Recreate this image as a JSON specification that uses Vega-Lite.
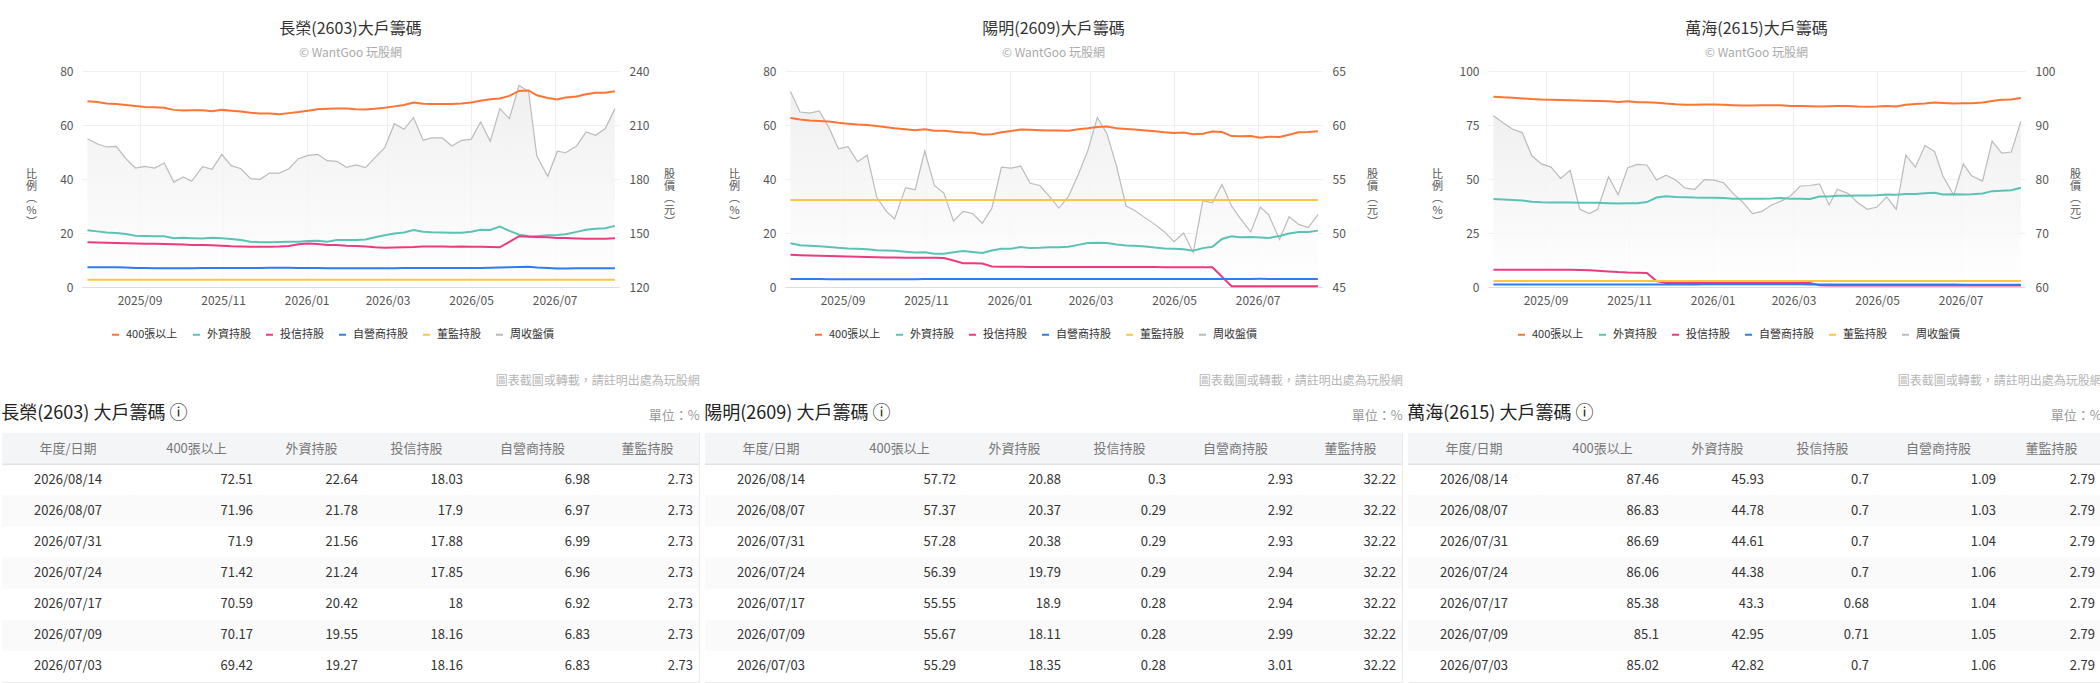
{
  "$schema": "https://vega.github.io/schema/vega-lite/v6.json",
  "background": "white",
  "padding": {"left": 0, "top": 21, "right": 0, "bottom": 0},
  "config": {
    "font": "Noto Sans CJK TC",
    "view": {"stroke": null},
    "title": {"fontSize": 16, "fontWeight": "normal", "color": "#333333", "subtitleFontSize": 12, "subtitleColor": "#aaaaaa", "offset": 6, "subtitlePadding": 11},
    "legend": {"orient": "none", "legendX": 28, "legendY": 258, "direction": "horizontal", "title": null, "symbolType": "stroke", "symbolStrokeWidth": 2, "symbolSize": 49, "labelFontSize": 11, "labelColor": "#333333", "columnPadding": 11, "labelOffset": 5, "padding": 0},
    "axisX": {"format": "%Y/%m", "tickCount": {"interval": "month", "step": 2}, "title": null, "ticks": false, "labelPadding": 8, "gridColor": "#eeeeee", "domainColor": "#dddddd", "labelColor": "#555555", "labelFontSize": 12},
    "axisY": {"domain": false, "ticks": true, "tickSize": 79, "tickOpacity": 0, "labelColor": "#555555", "labelFontSize": 12, "titleAngle": 0, "titleAlign": "center", "titleBaseline": "top", "titleY": 97, "titleFontSize": 11, "titleFontWeight": "normal", "titleColor": "#555555", "titleLineHeight": 12, "gridColor": "#f0f0f0"}
  },
  "datasets": {
    "cy": [
      {"d":"2025/07/25","400張以上":68.8,"外資持股":21.0,"投信持股":16.6,"自營商持股":7.3,"董監持股":2.73,"周收盤價":202.4},
      {"d":"2025/08/01","400張以上":68.5,"外資持股":20.6,"投信持股":16.5,"自營商持股":7.3,"董監持股":2.73,"周收盤價":199.6},
      {"d":"2025/08/08","400張以上":68.0,"外資持股":20.2,"投信持股":16.4,"自營商持股":7.3,"董監持股":2.73,"周收盤價":197.8},
      {"d":"2025/08/15","400張以上":67.8,"外資持股":20.0,"投信持股":16.3,"自營商持股":7.3,"董監持股":2.73,"周收盤價":198.1},
      {"d":"2025/08/22","400張以上":67.4,"外資持股":19.6,"投信持股":16.2,"自營商持股":7.2,"董監持股":2.73,"周收盤價":191.3},
      {"d":"2025/08/29","400張以上":67.0,"外資持股":19.0,"投信持股":16.1,"自營商持股":7.0,"董監持股":2.73,"周收盤價":186.1},
      {"d":"2025/09/05","400張以上":66.7,"外資持股":18.9,"投信持股":16.0,"自營商持股":7.0,"董監持股":2.73,"周收盤價":187.0},
      {"d":"2025/09/12","400張以上":66.6,"外資持股":18.8,"投信持股":16.0,"自營商持股":6.9,"董監持股":2.73,"周收盤價":186.1},
      {"d":"2025/09/19","400張以上":66.4,"外資持股":18.8,"投信持股":15.9,"自營商持股":6.9,"董監持股":2.73,"周收盤價":188.9},
      {"d":"2025/09/26","400張以上":65.6,"外資持股":18.1,"投信持股":15.8,"自營商持股":6.9,"董監持股":2.73,"周收盤價":178.3},
      {"d":"2025/10/03","400張以上":65.4,"外資持股":18.2,"投信持股":15.7,"自營商持股":6.9,"董監持股":2.73,"周收盤價":181.1},
      {"d":"2025/10/09","400張以上":65.5,"外資持股":18.1,"投信持股":15.6,"自營商持股":6.9,"董監持股":2.73,"周收盤價":178.7},
      {"d":"2025/10/17","400張以上":65.5,"外資持股":18.0,"投信持股":15.6,"自營商持股":7.0,"董監持股":2.73,"周收盤價":186.9},
      {"d":"2025/10/24","400張以上":65.1,"外資持股":18.2,"投信持股":15.5,"自營商持股":7.0,"董監持股":2.73,"周收盤價":185.4},
      {"d":"2025/10/31","400張以上":65.6,"外資持股":18.1,"投信持股":15.3,"自營商持股":7.0,"董監持股":2.73,"周收盤價":193.7},
      {"d":"2025/11/07","400張以上":65.3,"外資持股":17.8,"投信持股":15.1,"自營商持股":7.0,"董監持股":2.73,"周收盤價":187.4},
      {"d":"2025/11/14","400張以上":65.0,"外資持股":17.4,"投信持股":15.0,"自營商持股":7.0,"董監持股":2.73,"周收盤價":185.7},
      {"d":"2025/11/21","400張以上":64.5,"外資持股":16.8,"投信持股":14.9,"自營商持股":7.0,"董監持股":2.73,"周收盤價":180.2},
      {"d":"2025/11/28","400張以上":64.3,"外資持股":16.6,"投信持股":14.9,"自營商持股":7.0,"董監持股":2.73,"周收盤價":179.8},
      {"d":"2025/12/05","400張以上":64.3,"外資持股":16.6,"投信持股":14.9,"自營商持股":7.1,"董監持股":2.73,"周收盤價":183.3},
      {"d":"2025/12/12","400張以上":64.0,"外資持股":16.7,"投信持股":15.0,"自營商持股":7.1,"董監持股":2.73,"周收盤價":183.3},
      {"d":"2025/12/19","400張以上":64.4,"外資持股":16.8,"投信持股":15.2,"自營商持股":7.1,"董監持股":2.73,"周收盤價":185.7},
      {"d":"2025/12/26","400張以上":64.8,"外資持股":16.8,"投信持股":15.8,"自營商持股":7.0,"董監持股":2.73,"周收盤價":191.3},
      {"d":"2026/01/02","400張以上":65.3,"外資持股":17.0,"投信持股":16.1,"自營商持股":7.0,"董監持股":2.73,"周收盤價":193.1},
      {"d":"2026/01/09","400張以上":65.8,"外資持股":17.1,"投信持股":15.9,"自營商持股":7.0,"董監持股":2.73,"周收盤價":193.7},
      {"d":"2026/01/16","400張以上":66.0,"外資持股":16.8,"投信持股":15.6,"自營商持股":6.9,"董監持股":2.73,"周收盤價":190.2},
      {"d":"2026/01/23","400張以上":66.1,"外資持股":17.4,"投信持股":15.6,"自營商持股":6.9,"董監持股":2.73,"周收盤價":189.8},
      {"d":"2026/01/30","400張以上":66.1,"外資持股":17.4,"投信持股":15.3,"自營商持股":6.9,"董監持股":2.73,"周收盤價":186.5},
      {"d":"2026/02/06","400張以上":65.8,"外資持股":17.4,"投信持股":15.2,"自營商持股":6.9,"董監持股":2.73,"周收盤價":187.8},
      {"d":"2026/02/13","400張以上":65.7,"外資持股":17.6,"投信持股":15.0,"自營商持股":6.9,"董監持股":2.73,"周收盤價":186.3},
      {"d":"2026/02/20","400張以上":66.0,"外資持股":18.4,"投信持股":14.7,"自營商持股":6.9,"董監持股":2.73,"周收盤價":192.0},
      {"d":"2026/02/27","400張以上":66.4,"外資持股":19.2,"投信持股":14.5,"自營商持股":6.9,"董監持股":2.73,"周收盤價":197.4},
      {"d":"2026/03/06","400張以上":66.9,"外資持股":19.8,"投信持股":14.6,"自營商持股":6.9,"董監持股":2.73,"周收盤價":210.7},
      {"d":"2026/03/13","400張以上":67.4,"外資持股":20.2,"投信持股":14.7,"自營商持股":7.0,"董監持股":2.73,"周收盤價":207.6},
      {"d":"2026/03/20","400張以上":68.3,"外資持股":21.1,"投信持股":14.8,"自營商持股":7.0,"董監持股":2.73,"周收盤價":214.1},
      {"d":"2026/03/27","400張以上":67.9,"外資持股":20.5,"投信持股":15.0,"自營商持股":7.0,"董監持股":2.73,"周收盤價":201.5},
      {"d":"2026/04/02","400張以上":67.8,"外資持股":20.3,"投信持股":15.0,"自營商持股":7.0,"董監持股":2.73,"周收盤價":202.8},
      {"d":"2026/04/10","400張以上":67.8,"外資持股":20.2,"投信持股":15.0,"自營商持股":7.0,"董監持股":2.73,"周收盤價":202.8},
      {"d":"2026/04/17","400張以上":67.8,"外資持股":20.1,"投信持股":14.9,"自營商持股":7.0,"董監持股":2.73,"周收盤價":198.3},
      {"d":"2026/04/24","400張以上":68.0,"外資持股":20.1,"投信持股":15.0,"自營商持股":7.0,"董監持股":2.73,"周收盤價":201.5},
      {"d":"2026/05/01","400張以上":68.3,"外資持股":20.5,"投信持股":14.9,"自營商持股":7.0,"董監持股":2.73,"周收盤價":202.0},
      {"d":"2026/05/08","400張以上":69.0,"外資持股":21.2,"投信持股":14.9,"自營商持股":7.0,"董監持股":2.73,"周收盤價":211.7},
      {"d":"2026/05/15","400張以上":69.5,"外資持股":21.1,"投信持股":14.8,"自營商持股":7.1,"董監持股":2.73,"周收盤價":200.9},
      {"d":"2026/05/22","400張以上":69.8,"外資持股":22.4,"投信持股":14.7,"自營商持股":7.2,"董監持股":2.73,"周收盤價":219.1},
      {"d":"2026/05/29","400張以上":70.8,"外資持股":20.8,"投信持股":16.7,"自營商持股":7.3,"董監持股":2.73,"周收盤價":213.5},
      {"d":"2026/06/05","400張以上":72.6,"外資持股":19.4,"投信持股":18.8,"自營商持股":7.4,"董監持股":2.73,"周收盤價":232.0},
      {"d":"2026/06/12","400張以上":72.8,"外資持股":18.9,"投信持股":18.6,"自營商持股":7.5,"董監持股":2.73,"周收盤價":228.7},
      {"d":"2026/06/18","400張以上":71.0,"外資持股":18.8,"投信持股":18.5,"自營商持股":7.2,"董監持股":2.73,"周收盤價":192.8},
      {"d":"2026/06/26","400張以上":70.0,"外資持股":19.2,"投信持股":18.4,"自營商持股":7.0,"董監持股":2.73,"周收盤價":181.5},
      {"d":"2026/07/03","400張以上":69.42,"外資持股":19.27,"投信持股":18.16,"自營商持股":6.83,"董監持股":2.73,"周收盤價":195.4},
      {"d":"2026/07/09","400張以上":70.17,"外資持股":19.55,"投信持股":18.16,"自營商持股":6.83,"董監持股":2.73,"周收盤價":194.6},
      {"d":"2026/07/17","400張以上":70.59,"外資持股":20.42,"投信持股":18.0,"自營商持股":6.92,"董監持股":2.73,"周收盤價":198.3},
      {"d":"2026/07/24","400張以上":71.42,"外資持股":21.24,"投信持股":17.85,"自營商持股":6.96,"董監持股":2.73,"周收盤價":206.1},
      {"d":"2026/07/31","400張以上":71.9,"外資持股":21.56,"投信持股":17.88,"自營商持股":6.99,"董監持股":2.73,"周收盤價":204.3},
      {"d":"2026/08/07","400張以上":71.96,"外資持股":21.78,"投信持股":17.9,"自營商持股":6.97,"董監持股":2.73,"周收盤價":208.0},
      {"d":"2026/08/14","400張以上":72.51,"外資持股":22.64,"投信持股":18.03,"自營商持股":6.98,"董監持股":2.73,"周收盤價":219.1}
    ],
    "ym": [
      {"d":"2025/07/25","400張以上":62.6,"外資持股":16.2,"投信持股":11.9,"自營商持股":3.0,"董監持股":32.22,"周收盤價":63.1},
      {"d":"2025/08/01","400張以上":62.0,"外資持股":15.5,"投信持股":11.8,"自營商持股":3.0,"董監持股":32.22,"周收盤價":61.2},
      {"d":"2025/08/08","400張以上":61.7,"外資持股":15.3,"投信持股":11.7,"自營商持股":3.0,"董監持股":32.22,"周收盤價":61.1},
      {"d":"2025/08/15","400張以上":61.5,"外資持股":15.1,"投信持股":11.6,"自營商持股":3.0,"董監持股":32.22,"周收盤價":61.3},
      {"d":"2025/08/22","400張以上":61.3,"外資持股":14.8,"投信持股":11.5,"自營商持股":2.9,"董監持股":32.22,"周收盤價":59.8},
      {"d":"2025/08/29","400張以上":60.8,"外資持股":14.5,"投信持股":11.4,"自營商持股":2.9,"董監持股":32.22,"周收盤價":57.8},
      {"d":"2025/09/05","400張以上":60.5,"外資持股":14.3,"投信持股":11.3,"自營商持股":2.9,"董監持股":32.22,"周收盤價":58.0},
      {"d":"2025/09/12","400張以上":60.2,"外資持股":14.2,"投信持股":11.2,"自營商持股":2.9,"董監持股":32.22,"周收盤價":56.6},
      {"d":"2025/09/19","400張以上":60.0,"外資持股":14.0,"投信持股":11.1,"自營商持股":2.9,"董監持股":32.22,"周收盤價":57.2},
      {"d":"2025/09/26","400張以上":59.6,"外資持股":13.6,"投信持股":11.0,"自營商持股":2.9,"董監持股":32.22,"周收盤價":53.3},
      {"d":"2025/10/03","400張以上":59.2,"外資持股":13.5,"投信持股":10.9,"自營商持股":2.9,"董監持股":32.22,"周收盤價":52.0},
      {"d":"2025/10/09","400張以上":58.8,"外資持股":13.4,"投信持股":10.9,"自營商持股":2.9,"董監持股":32.22,"周收盤價":51.3},
      {"d":"2025/10/17","400張以上":58.4,"外資持股":13.1,"投信持股":10.8,"自營商持股":2.9,"董監持股":32.22,"周收盤價":54.2},
      {"d":"2025/10/24","400張以上":58.1,"外資持股":12.8,"投信持股":10.8,"自營商持股":2.9,"董監持股":32.22,"周收盤價":54.0},
      {"d":"2025/10/31","400張以上":58.4,"外資持股":12.9,"投信持股":10.8,"自營商持股":3.0,"董監持股":32.22,"周收盤價":57.6},
      {"d":"2025/11/07","400張以上":57.9,"外資持股":12.3,"投信持股":10.8,"自營商持股":3.0,"董監持股":32.22,"周收盤價":54.4},
      {"d":"2025/11/14","400張以上":57.9,"外資持股":12.3,"投信持股":10.7,"自營商持股":3.0,"董監持股":32.22,"周收盤價":53.7},
      {"d":"2025/11/21","400張以上":57.5,"外資持股":12.9,"投信持股":9.8,"自營商持股":3.0,"董監持股":32.22,"周收盤價":51.1},
      {"d":"2025/11/28","400張以上":57.2,"外資持股":13.3,"投信持股":8.8,"自營商持股":3.0,"董監持股":32.22,"周收盤價":52.0},
      {"d":"2025/12/05","400張以上":57.1,"外資持股":13.0,"投信持股":8.8,"自營商持股":3.0,"董監持股":32.22,"周收盤價":51.8},
      {"d":"2025/12/12","400張以上":56.5,"外資持股":12.6,"投信持股":8.7,"自營商持股":3.0,"董監持股":32.22,"周收盤價":50.9},
      {"d":"2025/12/19","400張以上":56.6,"外資持股":13.5,"投信持股":7.6,"自營商持股":3.0,"董監持股":32.22,"周收盤價":52.3},
      {"d":"2025/12/26","400張以上":57.3,"外資持股":14.2,"投信持股":7.5,"自營商持股":3.0,"董監持股":32.22,"周收盤價":56.1},
      {"d":"2026/01/02","400張以上":57.8,"外資持股":14.2,"投信持股":7.5,"自營商持股":3.0,"董監持股":32.22,"周收盤價":56.0},
      {"d":"2026/01/09","400張以上":58.3,"外資持股":14.8,"投信持股":7.5,"自營商持股":3.0,"董監持股":32.22,"周收盤價":56.2},
      {"d":"2026/01/16","400張以上":58.2,"外資持股":14.4,"投信持股":7.4,"自營商持股":3.0,"董監持股":32.22,"周收盤價":54.6},
      {"d":"2026/01/23","400張以上":58.1,"外資持股":14.5,"投信持股":7.4,"自營商持股":3.0,"董監持股":32.22,"周收盤價":54.4},
      {"d":"2026/01/30","400張以上":58.0,"外資持股":14.7,"投信持股":7.4,"自營商持股":3.0,"董監持股":32.22,"周收盤價":53.4},
      {"d":"2026/02/06","400張以上":58.0,"外資持股":14.7,"投信持股":7.4,"自營商持股":3.0,"董監持股":32.22,"周收盤價":52.3},
      {"d":"2026/02/13","400張以上":57.9,"外資持股":14.9,"投信持股":7.4,"自營商持股":3.0,"董監持股":32.22,"周收盤價":53.4},
      {"d":"2026/02/20","400張以上":58.4,"外資持股":15.6,"投信持股":7.4,"自營商持股":3.0,"董監持股":32.22,"周收盤價":55.4},
      {"d":"2026/02/27","400張以上":58.8,"外資持股":16.3,"投信持股":7.4,"自營商持股":3.0,"董監持股":32.22,"周收盤價":57.6},
      {"d":"2026/03/06","400張以上":59.3,"外資持股":16.4,"投信持股":7.4,"自營商持股":3.0,"董監持股":32.22,"周收盤價":60.7},
      {"d":"2026/03/13","400張以上":59.4,"外資持股":16.3,"投信持股":7.4,"自營商持股":3.0,"董監持股":32.22,"周收盤價":59.2},
      {"d":"2026/03/20","400張以上":58.8,"外資持股":15.7,"投信持股":7.4,"自營商持股":3.0,"董監持股":32.22,"周收盤價":56.2},
      {"d":"2026/03/27","400張以上":58.5,"外資持股":15.4,"投信持股":7.4,"自營商持股":3.0,"董監持股":32.22,"周收盤價":52.5},
      {"d":"2026/04/02","400張以上":58.3,"外資持股":15.3,"投信持股":7.4,"自營商持股":3.0,"董監持股":32.22,"周收盤價":52.1},
      {"d":"2026/04/10","400張以上":58.0,"外資持股":15.0,"投信持股":7.4,"自營商持股":3.0,"董監持股":32.22,"周收盤價":51.4},
      {"d":"2026/04/17","400張以上":57.7,"外資持股":14.6,"投信持股":7.4,"自營商持股":3.0,"董監持股":32.22,"周收盤價":50.8},
      {"d":"2026/04/24","400張以上":57.3,"外資持股":14.3,"投信持股":7.3,"自營商持股":3.0,"董監持股":32.22,"周收盤價":50.1},
      {"d":"2026/05/01","400張以上":57.0,"外資持股":14.2,"投信持股":7.3,"自營商持股":3.0,"董監持股":32.22,"周收盤價":49.2},
      {"d":"2026/05/08","400張以上":57.2,"外資持股":14.0,"投信持股":7.3,"自營商持股":3.0,"董監持股":32.22,"周收盤價":50.0},
      {"d":"2026/05/15","400張以上":56.6,"外資持股":13.4,"投信持股":7.3,"自營商持股":3.0,"董監持股":32.22,"周收盤價":48.2},
      {"d":"2026/05/22","400張以上":56.8,"外資持股":14.4,"投信持股":7.3,"自營商持股":3.0,"董監持股":32.22,"周收盤價":53.0},
      {"d":"2026/05/29","400張以上":57.6,"外資持股":14.9,"投信持股":7.3,"自營商持股":3.0,"董監持股":32.22,"周收盤價":52.8},
      {"d":"2026/06/05","400張以上":57.4,"外資持股":17.8,"投信持股":3.8,"自營商持股":3.0,"董監持股":32.22,"周收盤價":54.5},
      {"d":"2026/06/12","400張以上":55.9,"外資持股":18.8,"投信持股":0.3,"自營商持股":3.0,"董監持股":32.22,"周收盤價":52.5},
      {"d":"2026/06/18","400張以上":55.8,"外資持股":18.4,"投信持股":0.3,"自營商持股":3.0,"董監持股":32.22,"周收盤價":51.4},
      {"d":"2026/06/26","400張以上":55.9,"外資持股":18.5,"投信持股":0.28,"自營商持股":3.0,"董監持股":32.22,"周收盤價":50.1},
      {"d":"2026/07/03","400張以上":55.29,"外資持股":18.35,"投信持股":0.28,"自營商持股":3.01,"董監持股":32.22,"周收盤價":52.4},
      {"d":"2026/07/09","400張以上":55.67,"外資持股":18.11,"投信持股":0.28,"自營商持股":2.99,"董監持股":32.22,"周收盤價":51.7},
      {"d":"2026/07/17","400張以上":55.55,"外資持股":18.9,"投信持股":0.28,"自營商持股":2.94,"董監持股":32.22,"周收盤價":49.4},
      {"d":"2026/07/24","400張以上":56.39,"外資持股":19.79,"投信持股":0.29,"自營商持股":2.94,"董監持股":32.22,"周收盤價":51.5},
      {"d":"2026/07/31","400張以上":57.28,"外資持股":20.38,"投信持股":0.29,"自營商持股":2.93,"董監持股":32.22,"周收盤價":50.8},
      {"d":"2026/08/07","400張以上":57.37,"外資持股":20.37,"投信持股":0.29,"自營商持股":2.92,"董監持股":32.22,"周收盤價":50.5},
      {"d":"2026/08/14","400張以上":57.72,"外資持股":20.88,"投信持股":0.3,"自營商持股":2.93,"董監持股":32.22,"周收盤價":51.7}
    ],
    "wh": [
      {"d":"2025/07/25","400張以上":88.1,"外資持股":40.7,"投信持股":8.0,"自營商持股":1.2,"董監持股":2.79,"周收盤價":91.7},
      {"d":"2025/08/01","400張以上":87.8,"外資持股":40.5,"投信持股":8.0,"自營商持股":1.2,"董監持股":2.79,"周收盤價":90.4},
      {"d":"2025/08/08","400張以上":87.6,"外資持股":40.3,"投信持股":8.0,"自營商持股":1.2,"董監持股":2.79,"周收盤價":89.2},
      {"d":"2025/08/15","400張以上":87.3,"外資持股":40.0,"投信持股":8.0,"自營商持股":1.2,"董監持股":2.79,"周收盤價":88.6},
      {"d":"2025/08/22","400張以上":87.0,"外資持股":39.5,"投信持股":8.0,"自營商持股":1.1,"董監持股":2.79,"周收盤價":84.3},
      {"d":"2025/08/29","400張以上":86.8,"外資持股":39.2,"投信持股":8.0,"自營商持股":1.1,"董監持股":2.79,"周收盤價":82.8},
      {"d":"2025/09/05","400張以上":86.7,"外資持股":39.1,"投信持股":8.0,"自營商持股":1.1,"董監持股":2.79,"周收盤價":82.2},
      {"d":"2025/09/12","400張以上":86.6,"外資持股":39.1,"投信持股":8.0,"自營商持股":1.1,"董監持股":2.79,"周收盤價":80.1},
      {"d":"2025/09/19","400張以上":86.5,"外資持股":39.1,"投信持股":8.0,"自營商持股":1.1,"董監持股":2.79,"周收盤價":81.6},
      {"d":"2025/09/26","400張以上":86.3,"外資持股":39.0,"投信持股":7.9,"自營商持股":1.1,"董監持股":2.79,"周收盤價":74.4},
      {"d":"2025/10/03","400張以上":86.2,"外資持股":39.0,"投信持股":7.8,"自營商持股":1.1,"董監持股":2.79,"周收盤價":73.6},
      {"d":"2025/10/09","400張以上":86.1,"外資持股":39.0,"投信持股":7.5,"自營商持股":1.1,"董監持股":2.79,"周收盤價":74.4},
      {"d":"2025/10/17","400張以上":86.0,"外資持股":38.8,"投信持股":7.2,"自營商持股":1.2,"董監持股":2.79,"周收盤價":80.4},
      {"d":"2025/10/24","400張以上":85.6,"外資持股":38.7,"投信持股":6.9,"自營商持股":1.2,"董監持股":2.79,"周收盤價":77.1},
      {"d":"2025/10/31","400張以上":86.0,"外資持股":38.8,"投信持股":6.7,"自營商持股":1.2,"董監持股":2.79,"周收盤價":82.1},
      {"d":"2025/11/07","400張以上":85.5,"外資持股":38.8,"投信持股":6.6,"自營商持股":1.2,"董監持股":2.79,"周收盤價":82.7},
      {"d":"2025/11/14","400張以上":85.5,"外資持股":39.3,"投信持股":6.5,"自營商持股":1.2,"董監持股":2.79,"周收盤價":82.6},
      {"d":"2025/11/21","400張以上":85.3,"外資持股":41.4,"投信持股":2.8,"自營商持股":1.2,"董監持股":2.79,"周收盤價":79.8},
      {"d":"2025/11/28","400張以上":84.9,"外資持股":42.0,"投信持股":1.9,"自營商持股":1.2,"董監持股":2.79,"周收盤價":80.7},
      {"d":"2025/12/05","400張以上":84.6,"外資持股":41.7,"投信持股":1.9,"自營商持股":1.2,"董監持股":2.79,"周收盤價":79.8},
      {"d":"2025/12/12","400張以上":84.4,"外資持股":41.6,"投信持股":1.9,"自營商持股":1.2,"董監持股":2.79,"周收盤價":78.3},
      {"d":"2025/12/19","400張以上":84.4,"外資持股":41.4,"投信持股":1.9,"自營商持股":1.2,"董監持股":2.79,"周收盤價":78.1},
      {"d":"2025/12/26","400張以上":84.5,"外資持股":41.3,"投信持股":1.9,"自營商持股":1.3,"董監持股":2.79,"周收盤價":79.9},
      {"d":"2026/01/02","400張以上":84.5,"外資持股":41.3,"投信持股":1.9,"自營商持股":1.3,"董監持股":2.79,"周收盤價":79.8},
      {"d":"2026/01/09","400張以上":84.4,"外資持股":41.2,"投信持股":1.9,"自營商持股":1.3,"董監持股":2.79,"周收盤價":79.3},
      {"d":"2026/01/16","400張以上":84.2,"外資持股":40.9,"投信持股":1.9,"自營商持股":1.3,"董監持股":2.79,"周收盤價":77.3},
      {"d":"2026/01/23","400張以上":84.0,"外資持股":40.8,"投信持股":1.8,"自營商持股":1.3,"董監持股":2.79,"周收盤價":75.7},
      {"d":"2026/01/30","400張以上":84.0,"外資持股":40.8,"投信持股":1.8,"自營商持股":1.3,"董監持股":2.79,"周收盤價":73.6},
      {"d":"2026/02/06","400張以上":84.1,"外資持股":40.9,"投信持股":1.8,"自營商持股":1.3,"董監持股":2.79,"周收盤價":74.0},
      {"d":"2026/02/13","400張以上":84.2,"外資持股":41.0,"投信持股":1.8,"自營商持股":1.3,"董監持股":2.79,"周收盤價":75.2},
      {"d":"2026/02/20","400張以上":84.1,"外資持股":41.2,"投信持股":1.8,"自營商持股":1.3,"董監持股":2.79,"周收盤價":75.9},
      {"d":"2026/02/27","400張以上":83.8,"外資持股":40.8,"投信持股":1.8,"自營商持股":1.3,"董監持股":2.79,"周收盤價":76.9},
      {"d":"2026/03/06","400張以上":83.8,"外資持股":40.8,"投信持股":1.8,"自營商持股":1.3,"董監持股":2.79,"周收盤價":78.7},
      {"d":"2026/03/13","400張以上":83.7,"外資持股":40.7,"投信持股":1.8,"自營商持股":1.2,"董監持股":2.79,"周收盤價":78.8},
      {"d":"2026/03/20","400張以上":83.6,"外資持股":41.9,"投信持股":0.8,"自營商持股":1.1,"董監持股":2.79,"周收盤價":79.1},
      {"d":"2026/03/27","400張以上":83.7,"外資持股":41.9,"投信持股":0.7,"自營商持股":1.1,"董監持股":2.79,"周收盤價":75.2},
      {"d":"2026/04/02","400張以上":83.8,"外資持股":42.2,"投信持股":0.7,"自營商持股":1.1,"董監持股":2.79,"周收盤價":78.1},
      {"d":"2026/04/10","400張以上":83.8,"外資持股":42.3,"投信持股":0.7,"自營商持股":1.1,"董監持股":2.79,"周收盤價":77.3},
      {"d":"2026/04/17","400張以上":83.6,"外資持股":42.4,"投信持股":0.7,"自營商持股":1.1,"董監持股":2.79,"周收盤價":75.6},
      {"d":"2026/04/24","400張以上":83.5,"外資持股":42.4,"投信持股":0.7,"自營商持股":1.1,"董監持股":2.79,"周收盤價":74.4},
      {"d":"2026/05/01","400張以上":83.6,"外資持股":42.5,"投信持股":0.7,"自營商持股":1.1,"董監持股":2.79,"周收盤價":74.8},
      {"d":"2026/05/08","400張以上":83.8,"外資持股":42.8,"投信持股":0.7,"自營商持股":1.1,"董監持股":2.79,"周收盤價":76.7},
      {"d":"2026/05/15","400張以上":83.6,"外資持股":42.7,"投信持股":0.7,"自營商持股":1.1,"董監持股":2.79,"周收盤價":74.4},
      {"d":"2026/05/22","400張以上":84.4,"外資持股":43.0,"投信持股":0.7,"自營商持股":1.1,"董監持股":2.79,"周收盤價":84.4},
      {"d":"2026/05/29","400張以上":84.7,"外資持股":43.0,"投信持股":0.7,"自營商持股":1.1,"董監持股":2.79,"周收盤價":82.2},
      {"d":"2026/06/05","400張以上":85.0,"外資持股":43.4,"投信持股":0.7,"自營商持股":1.1,"董監持股":2.79,"周收盤價":86.2},
      {"d":"2026/06/12","400張以上":85.4,"外資持股":43.6,"投信持股":0.7,"自營商持股":1.1,"董監持股":2.79,"周收盤價":85.1},
      {"d":"2026/06/18","400張以上":85.2,"外資持股":42.8,"投信持股":0.7,"自營商持股":1.1,"董監持股":2.79,"周收盤價":80.6},
      {"d":"2026/06/26","400張以上":85.0,"外資持股":42.9,"投信持股":0.7,"自營商持股":1.1,"董監持股":2.79,"周收盤價":77.0},
      {"d":"2026/07/03","400張以上":85.02,"外資持股":42.82,"投信持股":0.7,"自營商持股":1.06,"董監持股":2.79,"周收盤價":82.8},
      {"d":"2026/07/09","400張以上":85.1,"外資持股":42.95,"投信持股":0.71,"自營商持股":1.05,"董監持股":2.79,"周收盤價":80.6},
      {"d":"2026/07/17","400張以上":85.38,"外資持股":43.3,"投信持股":0.68,"自營商持股":1.04,"董監持股":2.79,"周收盤價":79.6},
      {"d":"2026/07/24","400張以上":86.06,"外資持股":44.38,"投信持股":0.7,"自營商持股":1.06,"董監持股":2.79,"周收盤價":87.0},
      {"d":"2026/07/31","400張以上":86.69,"外資持股":44.61,"投信持股":0.7,"自營商持股":1.04,"董監持股":2.79,"周收盤價":84.8},
      {"d":"2026/08/07","400張以上":86.83,"外資持股":44.78,"投信持股":0.7,"自營商持股":1.03,"董監持股":2.79,"周收盤價":85.0},
      {"d":"2026/08/14","400張以上":87.46,"外資持股":45.93,"投信持股":0.7,"自營商持股":1.09,"董監持股":2.79,"周收盤價":90.7}
    ],
    "t_cy": [
      {"date":"2026/08/14","400張以上":72.51,"外資持股":22.64,"投信持股":18.03,"自營商持股":6.98,"董監持股":2.73},
      {"date":"2026/08/07","400張以上":71.96,"外資持股":21.78,"投信持股":17.9,"自營商持股":6.97,"董監持股":2.73},
      {"date":"2026/07/31","400張以上":71.9,"外資持股":21.56,"投信持股":17.88,"自營商持股":6.99,"董監持股":2.73},
      {"date":"2026/07/24","400張以上":71.42,"外資持股":21.24,"投信持股":17.85,"自營商持股":6.96,"董監持股":2.73},
      {"date":"2026/07/17","400張以上":70.59,"外資持股":20.42,"投信持股":18,"自營商持股":6.92,"董監持股":2.73},
      {"date":"2026/07/09","400張以上":70.17,"外資持股":19.55,"投信持股":18.16,"自營商持股":6.83,"董監持股":2.73},
      {"date":"2026/07/03","400張以上":69.42,"外資持股":19.27,"投信持股":18.16,"自營商持股":6.83,"董監持股":2.73}
    ],
    "t_ym": [
      {"date":"2026/08/14","400張以上":57.72,"外資持股":20.88,"投信持股":0.3,"自營商持股":2.93,"董監持股":32.22},
      {"date":"2026/08/07","400張以上":57.37,"外資持股":20.37,"投信持股":0.29,"自營商持股":2.92,"董監持股":32.22},
      {"date":"2026/07/31","400張以上":57.28,"外資持股":20.38,"投信持股":0.29,"自營商持股":2.93,"董監持股":32.22},
      {"date":"2026/07/24","400張以上":56.39,"外資持股":19.79,"投信持股":0.29,"自營商持股":2.94,"董監持股":32.22},
      {"date":"2026/07/17","400張以上":55.55,"外資持股":18.9,"投信持股":0.28,"自營商持股":2.94,"董監持股":32.22},
      {"date":"2026/07/09","400張以上":55.67,"外資持股":18.11,"投信持股":0.28,"自營商持股":2.99,"董監持股":32.22},
      {"date":"2026/07/03","400張以上":55.29,"外資持股":18.35,"投信持股":0.28,"自營商持股":3.01,"董監持股":32.22}
    ],
    "t_wh": [
      {"date":"2026/08/14","400張以上":87.46,"外資持股":45.93,"投信持股":0.7,"自營商持股":1.09,"董監持股":2.79},
      {"date":"2026/08/07","400張以上":86.83,"外資持股":44.78,"投信持股":0.7,"自營商持股":1.03,"董監持股":2.79},
      {"date":"2026/07/31","400張以上":86.69,"外資持股":44.61,"投信持股":0.7,"自營商持股":1.04,"董監持股":2.79},
      {"date":"2026/07/24","400張以上":86.06,"外資持股":44.38,"投信持股":0.7,"自營商持股":1.06,"董監持股":2.79},
      {"date":"2026/07/17","400張以上":85.38,"外資持股":43.3,"投信持股":0.68,"自營商持股":1.04,"董監持股":2.79},
      {"date":"2026/07/09","400張以上":85.1,"外資持股":42.95,"投信持股":0.71,"自營商持股":1.05,"董監持股":2.79},
      {"date":"2026/07/03","400張以上":85.02,"外資持股":42.82,"投信持股":0.7,"自營商持股":1.06,"董監持股":2.79}
    ]
  },
  "hconcat": [
    {
      "vconcat": [
        {
          "hconcat": [
            {"width": 1, "height": 216, "data": {"values": []}, "mark": "point"},
            {
              "width": 537, "height": 216,
              "data": {"name": "cy"},
              "title": {"text": "長榮(2603)大戶籌碼", "subtitle": "© WantGoo 玩股網"},
              "encoding": {"x": {"field": "d", "type": "temporal", "scale": {"domain": [{"year": 2025, "month": 7, "date": 21}, {"year": 2026, "month": 8, "date": 17}]}}},
              "layer": [
                {
                  "encoding": {"y": {"field": "周收盤價", "type": "quantitative", "scale": {"domain": [120, 240], "nice": false, "zero": false}, "axis": {"orient": "right", "values": [120, 150, 180, 210, 240], "grid": false, "labelPadding": -69, "title": ["股", "價", "︵", "元", "︶"], "titleX": 50}}},
                  "layer": [
                    {"mark": {"type": "area", "color": {"gradient": "linear", "x1": 0, "y1": 1, "x2": 0, "y2": 0, "stops": [{"offset": 0, "color": "#ffffff"}, {"offset": 1, "color": "#ededed"}]}, "opacity": 0.85}, "encoding": {"y2": {"datum": 120}}},
                    {"mark": {"type": "line", "strokeWidth": 1.2}, "encoding": {"color": {"datum": "周收盤價", "type": "nominal", "scale": {"domain": ["400張以上", "外資持股", "投信持股", "自營商持股", "董監持股", "周收盤價"], "range": ["#ff7433", "#5bc2b6", "#eb3b80", "#2d7cf2", "#ffc542", "#bbbbbb"]}}}}
                  ]
                },
                {
                  "transform": [{"fold": ["400張以上", "外資持股", "投信持股", "自營商持股", "董監持股"], "as": ["series", "value"]}],
                  "mark": {"type": "line", "strokeWidth": 2},
                  "encoding": {
                    "y": {"field": "value", "type": "quantitative", "scale": {"domain": [0, 80], "nice": false}, "axis": {"orient": "left", "values": [0, 20, 40, 60, 80], "grid": true, "labelPadding": -70, "title": ["比", "例", "︵", "%", "︶"], "titleX": -51}},
                    "color": {"field": "series", "type": "nominal", "scale": {"domain": ["400張以上", "外資持股", "投信持股", "自營商持股", "董監持股", "周收盤價"], "range": ["#ff7433", "#5bc2b6", "#eb3b80", "#2d7cf2", "#ffc542", "#bbbbbb"]}}
                  }
                }
              ],
              "resolve": {"scale": {"y": "independent"}}
            }
          ],
          "spacing": 0,
          "resolve": {"scale": {"color": "independent"}, "legend": {"color": "independent"}}
        },
        {
          "hconcat": [
            {
              "width": 132, "height": 249, "view": {"stroke": "#ebebeb"}, "data": {"name": "t_cy"},
              "title": {"text": "長榮(2603) 大戶籌碼 ⓘ", "anchor": "start", "fontSize": 18, "color": "#222222", "offset": 10},
              "encoding": {"y": {"field": "date", "type": "nominal", "scale": {"domain": ["hdr", "2026/08/14", "2026/08/07", "2026/07/31", "2026/07/24", "2026/07/17", "2026/07/09", "2026/07/03"], "paddingInner": 0, "paddingOuter": 0}, "axis": null}},
              "layer": [
                {"mark": "rect", "encoding": {"fill": {"field": "date", "type": "nominal", "scale": {"domain": ["2026/08/14", "2026/08/07", "2026/07/31", "2026/07/24", "2026/07/17", "2026/07/09", "2026/07/03"], "range": ["#ffffff", "#fafafa", "#ffffff", "#fafafa", "#ffffff", "#fafafa", "#ffffff"]}, "legend": null}}},
                {"data": {"values": [{}]}, "mark": {"type": "rect", "fill": "#f4f5f7"}, "encoding": {"y": {"datum": "hdr", "type": "nominal"}}},
                {"data": {"values": [{}]}, "mark": {"type": "rule", "color": "#e2e2e2", "strokeWidth": 1.5}, "encoding": {"y": {"datum": "2026/08/14", "type": "nominal", "bandPosition": 0}}},
                {"data": {"values": [{}]}, "mark": {"type": "text", "color": "#777777", "fontSize": 13}, "encoding": {"y": {"datum": "hdr", "type": "nominal"}, "text": {"value": "年度/日期"}}},
                {"mark": {"type": "text", "color": "#333333", "fontSize": 13}, "encoding": {"text": {"field": "date", "type": "nominal"}}}
              ]
            },
            {
              "width": 125, "height": 249, "view": {"stroke": "#ebebeb"}, "data": {"name": "t_cy"},
              "encoding": {"y": {"field": "date", "type": "nominal", "scale": {"domain": ["hdr", "2026/08/14", "2026/08/07", "2026/07/31", "2026/07/24", "2026/07/17", "2026/07/09", "2026/07/03"], "paddingInner": 0, "paddingOuter": 0}, "axis": null}},
              "layer": [
                {"mark": "rect", "encoding": {"fill": {"field": "date", "type": "nominal", "legend": null}}},
                {"data": {"values": [{}]}, "mark": {"type": "rect", "fill": "#f4f5f7"}, "encoding": {"y": {"datum": "hdr", "type": "nominal"}}},
                {"data": {"values": [{}]}, "mark": {"type": "rule", "color": "#e2e2e2", "strokeWidth": 1.5}, "encoding": {"y": {"datum": "2026/08/14", "type": "nominal", "bandPosition": 0}}},
                {"data": {"values": [{}]}, "mark": {"type": "text", "color": "#777777", "fontSize": 13}, "encoding": {"y": {"datum": "hdr", "type": "nominal"}, "text": {"value": "400張以上"}}},
                {"mark": {"type": "text", "color": "#333333", "fontSize": 13, "align": "right", "dx": -6}, "encoding": {"x": {"value": "width"}, "text": {"field": "400張以上", "type": "nominal"}}}
              ]
            },
            {
              "width": 105, "height": 249, "view": {"stroke": "#ebebeb"}, "data": {"name": "t_cy"},
              "encoding": {"y": {"field": "date", "type": "nominal", "scale": {"domain": ["hdr", "2026/08/14", "2026/08/07", "2026/07/31", "2026/07/24", "2026/07/17", "2026/07/09", "2026/07/03"], "paddingInner": 0, "paddingOuter": 0}, "axis": null}},
              "layer": [
                {"mark": "rect", "encoding": {"fill": {"field": "date", "type": "nominal", "legend": null}}},
                {"data": {"values": [{}]}, "mark": {"type": "rect", "fill": "#f4f5f7"}, "encoding": {"y": {"datum": "hdr", "type": "nominal"}}},
                {"data": {"values": [{}]}, "mark": {"type": "rule", "color": "#e2e2e2", "strokeWidth": 1.5}, "encoding": {"y": {"datum": "2026/08/14", "type": "nominal", "bandPosition": 0}}},
                {"data": {"values": [{}]}, "mark": {"type": "text", "color": "#777777", "fontSize": 13}, "encoding": {"y": {"datum": "hdr", "type": "nominal"}, "text": {"value": "外資持股"}}},
                {"mark": {"type": "text", "color": "#333333", "fontSize": 13, "align": "right", "dx": -6}, "encoding": {"x": {"value": "width"}, "text": {"field": "外資持股", "type": "nominal"}}}
              ]
            },
            {
              "width": 105, "height": 249, "view": {"stroke": "#ebebeb"}, "data": {"name": "t_cy"},
              "encoding": {"y": {"field": "date", "type": "nominal", "scale": {"domain": ["hdr", "2026/08/14", "2026/08/07", "2026/07/31", "2026/07/24", "2026/07/17", "2026/07/09", "2026/07/03"], "paddingInner": 0, "paddingOuter": 0}, "axis": null}},
              "layer": [
                {"mark": "rect", "encoding": {"fill": {"field": "date", "type": "nominal", "legend": null}}},
                {"data": {"values": [{}]}, "mark": {"type": "rect", "fill": "#f4f5f7"}, "encoding": {"y": {"datum": "hdr", "type": "nominal"}}},
                {"data": {"values": [{}]}, "mark": {"type": "rule", "color": "#e2e2e2", "strokeWidth": 1.5}, "encoding": {"y": {"datum": "2026/08/14", "type": "nominal", "bandPosition": 0}}},
                {"data": {"values": [{}]}, "mark": {"type": "text", "color": "#777777", "fontSize": 13}, "encoding": {"y": {"datum": "hdr", "type": "nominal"}, "text": {"value": "投信持股"}}},
                {"mark": {"type": "text", "color": "#333333", "fontSize": 13, "align": "right", "dx": -6}, "encoding": {"x": {"value": "width"}, "text": {"field": "投信持股", "type": "nominal"}}}
              ]
            },
            {
              "width": 127, "height": 249, "view": {"stroke": "#ebebeb"}, "data": {"name": "t_cy"},
              "encoding": {"y": {"field": "date", "type": "nominal", "scale": {"domain": ["hdr", "2026/08/14", "2026/08/07", "2026/07/31", "2026/07/24", "2026/07/17", "2026/07/09", "2026/07/03"], "paddingInner": 0, "paddingOuter": 0}, "axis": null}},
              "layer": [
                {"mark": "rect", "encoding": {"fill": {"field": "date", "type": "nominal", "legend": null}}},
                {"data": {"values": [{}]}, "mark": {"type": "rect", "fill": "#f4f5f7"}, "encoding": {"y": {"datum": "hdr", "type": "nominal"}}},
                {"data": {"values": [{}]}, "mark": {"type": "rule", "color": "#e2e2e2", "strokeWidth": 1.5}, "encoding": {"y": {"datum": "2026/08/14", "type": "nominal", "bandPosition": 0}}},
                {"data": {"values": [{}]}, "mark": {"type": "text", "color": "#777777", "fontSize": 13}, "encoding": {"y": {"datum": "hdr", "type": "nominal"}, "text": {"value": "自營商持股"}}},
                {"mark": {"type": "text", "color": "#333333", "fontSize": 13, "align": "right", "dx": -6}, "encoding": {"x": {"value": "width"}, "text": {"field": "自營商持股", "type": "nominal"}}}
              ]
            },
            {
              "width": 103, "height": 249, "view": {"stroke": "#ebebeb"}, "data": {"name": "t_cy"},
              "title": {"text": "圖表截圖或轉載，請註明出處為玩股網", "subtitle": "單位：%", "anchor": "end", "fontSize": 12, "color": "#b5b5b5", "subtitleFontSize": 13, "subtitleColor": "#999999", "subtitlePadding": 22, "offset": 9},
              "encoding": {"y": {"field": "date", "type": "nominal", "scale": {"domain": ["hdr", "2026/08/14", "2026/08/07", "2026/07/31", "2026/07/24", "2026/07/17", "2026/07/09", "2026/07/03"], "paddingInner": 0, "paddingOuter": 0}, "axis": null}},
              "layer": [
                {"mark": "rect", "encoding": {"fill": {"field": "date", "type": "nominal", "legend": null}}},
                {"data": {"values": [{}]}, "mark": {"type": "rect", "fill": "#f4f5f7"}, "encoding": {"y": {"datum": "hdr", "type": "nominal"}}},
                {"data": {"values": [{}]}, "mark": {"type": "rule", "color": "#e2e2e2", "strokeWidth": 1.5}, "encoding": {"y": {"datum": "2026/08/14", "type": "nominal", "bandPosition": 0}}},
                {"data": {"values": [{}]}, "mark": {"type": "text", "color": "#777777", "fontSize": 13}, "encoding": {"y": {"datum": "hdr", "type": "nominal"}, "text": {"value": "董監持股"}}},
                {"mark": {"type": "text", "color": "#333333", "fontSize": 13, "align": "right", "dx": -6}, "encoding": {"x": {"value": "width"}, "text": {"field": "董監持股", "type": "nominal"}}}
              ]
            }
          ],
          "spacing": 0,
          "bounds": "flush"
        }
      ],
      "spacing": 34,
      "resolve": {"scale": {"color": "independent"}, "legend": {"color": "independent"}}
    },
    {
      "vconcat": [
        {
          "hconcat": [
            {"width": 1, "height": 216, "data": {"values": []}, "mark": "point"},
            {
              "width": 537, "height": 216,
              "data": {"name": "ym"},
              "title": {"text": "陽明(2609)大戶籌碼", "subtitle": "© WantGoo 玩股網"},
              "encoding": {"x": {"field": "d", "type": "temporal", "scale": {"domain": [{"year": 2025, "month": 7, "date": 21}, {"year": 2026, "month": 8, "date": 17}]}}},
              "layer": [
                {
                  "encoding": {"y": {"field": "周收盤價", "type": "quantitative", "scale": {"domain": [45, 65], "nice": false, "zero": false}, "axis": {"orient": "right", "values": [45, 50, 55, 60, 65], "grid": false, "labelPadding": -69, "title": ["股", "價", "︵", "元", "︶"], "titleX": 50}}},
                  "layer": [
                    {"mark": {"type": "area", "color": {"gradient": "linear", "x1": 0, "y1": 1, "x2": 0, "y2": 0, "stops": [{"offset": 0, "color": "#ffffff"}, {"offset": 1, "color": "#ededed"}]}, "opacity": 0.85}, "encoding": {"y2": {"datum": 45}}},
                    {"mark": {"type": "line", "strokeWidth": 1.2}, "encoding": {"color": {"datum": "周收盤價", "type": "nominal", "scale": {"domain": ["400張以上", "外資持股", "投信持股", "自營商持股", "董監持股", "周收盤價"], "range": ["#ff7433", "#5bc2b6", "#eb3b80", "#2d7cf2", "#ffc542", "#bbbbbb"]}}}}
                  ]
                },
                {
                  "transform": [{"fold": ["400張以上", "外資持股", "投信持股", "自營商持股", "董監持股"], "as": ["series", "value"]}],
                  "mark": {"type": "line", "strokeWidth": 2},
                  "encoding": {
                    "y": {"field": "value", "type": "quantitative", "scale": {"domain": [0, 80], "nice": false}, "axis": {"orient": "left", "values": [0, 20, 40, 60, 80], "grid": true, "labelPadding": -70, "title": ["比", "例", "︵", "%", "︶"], "titleX": -51}},
                    "color": {"field": "series", "type": "nominal", "scale": {"domain": ["400張以上", "外資持股", "投信持股", "自營商持股", "董監持股", "周收盤價"], "range": ["#ff7433", "#5bc2b6", "#eb3b80", "#2d7cf2", "#ffc542", "#bbbbbb"]}}
                  }
                }
              ],
              "resolve": {"scale": {"y": "independent"}}
            }
          ],
          "spacing": 0,
          "resolve": {"scale": {"color": "independent"}, "legend": {"color": "independent"}}
        },
        {
          "hconcat": [
            {
              "width": 132, "height": 249, "view": {"stroke": "#ebebeb"}, "data": {"name": "t_ym"},
              "title": {"text": "陽明(2609) 大戶籌碼 ⓘ", "anchor": "start", "fontSize": 18, "color": "#222222", "offset": 10},
              "encoding": {"y": {"field": "date", "type": "nominal", "scale": {"domain": ["hdr", "2026/08/14", "2026/08/07", "2026/07/31", "2026/07/24", "2026/07/17", "2026/07/09", "2026/07/03"], "paddingInner": 0, "paddingOuter": 0}, "axis": null}},
              "layer": [
                {"mark": "rect", "encoding": {"fill": {"field": "date", "type": "nominal", "legend": null}}},
                {"data": {"values": [{}]}, "mark": {"type": "rect", "fill": "#f4f5f7"}, "encoding": {"y": {"datum": "hdr", "type": "nominal"}}},
                {"data": {"values": [{}]}, "mark": {"type": "rule", "color": "#e2e2e2", "strokeWidth": 1.5}, "encoding": {"y": {"datum": "2026/08/14", "type": "nominal", "bandPosition": 0}}},
                {"data": {"values": [{}]}, "mark": {"type": "text", "color": "#777777", "fontSize": 13}, "encoding": {"y": {"datum": "hdr", "type": "nominal"}, "text": {"value": "年度/日期"}}},
                {"mark": {"type": "text", "color": "#333333", "fontSize": 13}, "encoding": {"text": {"field": "date", "type": "nominal"}}}
              ]
            },
            {
              "width": 125, "height": 249, "view": {"stroke": "#ebebeb"}, "data": {"name": "t_ym"},
              "encoding": {"y": {"field": "date", "type": "nominal", "scale": {"domain": ["hdr", "2026/08/14", "2026/08/07", "2026/07/31", "2026/07/24", "2026/07/17", "2026/07/09", "2026/07/03"], "paddingInner": 0, "paddingOuter": 0}, "axis": null}},
              "layer": [
                {"mark": "rect", "encoding": {"fill": {"field": "date", "type": "nominal", "legend": null}}},
                {"data": {"values": [{}]}, "mark": {"type": "rect", "fill": "#f4f5f7"}, "encoding": {"y": {"datum": "hdr", "type": "nominal"}}},
                {"data": {"values": [{}]}, "mark": {"type": "rule", "color": "#e2e2e2", "strokeWidth": 1.5}, "encoding": {"y": {"datum": "2026/08/14", "type": "nominal", "bandPosition": 0}}},
                {"data": {"values": [{}]}, "mark": {"type": "text", "color": "#777777", "fontSize": 13}, "encoding": {"y": {"datum": "hdr", "type": "nominal"}, "text": {"value": "400張以上"}}},
                {"mark": {"type": "text", "color": "#333333", "fontSize": 13, "align": "right", "dx": -6}, "encoding": {"x": {"value": "width"}, "text": {"field": "400張以上", "type": "nominal"}}}
              ]
            },
            {
              "width": 105, "height": 249, "view": {"stroke": "#ebebeb"}, "data": {"name": "t_ym"},
              "encoding": {"y": {"field": "date", "type": "nominal", "scale": {"domain": ["hdr", "2026/08/14", "2026/08/07", "2026/07/31", "2026/07/24", "2026/07/17", "2026/07/09", "2026/07/03"], "paddingInner": 0, "paddingOuter": 0}, "axis": null}},
              "layer": [
                {"mark": "rect", "encoding": {"fill": {"field": "date", "type": "nominal", "legend": null}}},
                {"data": {"values": [{}]}, "mark": {"type": "rect", "fill": "#f4f5f7"}, "encoding": {"y": {"datum": "hdr", "type": "nominal"}}},
                {"data": {"values": [{}]}, "mark": {"type": "rule", "color": "#e2e2e2", "strokeWidth": 1.5}, "encoding": {"y": {"datum": "2026/08/14", "type": "nominal", "bandPosition": 0}}},
                {"data": {"values": [{}]}, "mark": {"type": "text", "color": "#777777", "fontSize": 13}, "encoding": {"y": {"datum": "hdr", "type": "nominal"}, "text": {"value": "外資持股"}}},
                {"mark": {"type": "text", "color": "#333333", "fontSize": 13, "align": "right", "dx": -6}, "encoding": {"x": {"value": "width"}, "text": {"field": "外資持股", "type": "nominal"}}}
              ]
            },
            {
              "width": 105, "height": 249, "view": {"stroke": "#ebebeb"}, "data": {"name": "t_ym"},
              "encoding": {"y": {"field": "date", "type": "nominal", "scale": {"domain": ["hdr", "2026/08/14", "2026/08/07", "2026/07/31", "2026/07/24", "2026/07/17", "2026/07/09", "2026/07/03"], "paddingInner": 0, "paddingOuter": 0}, "axis": null}},
              "layer": [
                {"mark": "rect", "encoding": {"fill": {"field": "date", "type": "nominal", "legend": null}}},
                {"data": {"values": [{}]}, "mark": {"type": "rect", "fill": "#f4f5f7"}, "encoding": {"y": {"datum": "hdr", "type": "nominal"}}},
                {"data": {"values": [{}]}, "mark": {"type": "rule", "color": "#e2e2e2", "strokeWidth": 1.5}, "encoding": {"y": {"datum": "2026/08/14", "type": "nominal", "bandPosition": 0}}},
                {"data": {"values": [{}]}, "mark": {"type": "text", "color": "#777777", "fontSize": 13}, "encoding": {"y": {"datum": "hdr", "type": "nominal"}, "text": {"value": "投信持股"}}},
                {"mark": {"type": "text", "color": "#333333", "fontSize": 13, "align": "right", "dx": -6}, "encoding": {"x": {"value": "width"}, "text": {"field": "投信持股", "type": "nominal"}}}
              ]
            },
            {
              "width": 127, "height": 249, "view": {"stroke": "#ebebeb"}, "data": {"name": "t_ym"},
              "encoding": {"y": {"field": "date", "type": "nominal", "scale": {"domain": ["hdr", "2026/08/14", "2026/08/07", "2026/07/31", "2026/07/24", "2026/07/17", "2026/07/09", "2026/07/03"], "paddingInner": 0, "paddingOuter": 0}, "axis": null}},
              "layer": [
                {"mark": "rect", "encoding": {"fill": {"field": "date", "type": "nominal", "legend": null}}},
                {"data": {"values": [{}]}, "mark": {"type": "rect", "fill": "#f4f5f7"}, "encoding": {"y": {"datum": "hdr", "type": "nominal"}}},
                {"data": {"values": [{}]}, "mark": {"type": "rule", "color": "#e2e2e2", "strokeWidth": 1.5}, "encoding": {"y": {"datum": "2026/08/14", "type": "nominal", "bandPosition": 0}}},
                {"data": {"values": [{}]}, "mark": {"type": "text", "color": "#777777", "fontSize": 13}, "encoding": {"y": {"datum": "hdr", "type": "nominal"}, "text": {"value": "自營商持股"}}},
                {"mark": {"type": "text", "color": "#333333", "fontSize": 13, "align": "right", "dx": -6}, "encoding": {"x": {"value": "width"}, "text": {"field": "自營商持股", "type": "nominal"}}}
              ]
            },
            {
              "width": 103, "height": 249, "view": {"stroke": "#ebebeb"}, "data": {"name": "t_ym"},
              "title": {"text": "圖表截圖或轉載，請註明出處為玩股網", "subtitle": "單位：%", "anchor": "end", "fontSize": 12, "color": "#b5b5b5", "subtitleFontSize": 13, "subtitleColor": "#999999", "subtitlePadding": 22, "offset": 9},
              "encoding": {"y": {"field": "date", "type": "nominal", "scale": {"domain": ["hdr", "2026/08/14", "2026/08/07", "2026/07/31", "2026/07/24", "2026/07/17", "2026/07/09", "2026/07/03"], "paddingInner": 0, "paddingOuter": 0}, "axis": null}},
              "layer": [
                {"mark": "rect", "encoding": {"fill": {"field": "date", "type": "nominal", "legend": null}}},
                {"data": {"values": [{}]}, "mark": {"type": "rect", "fill": "#f4f5f7"}, "encoding": {"y": {"datum": "hdr", "type": "nominal"}}},
                {"data": {"values": [{}]}, "mark": {"type": "rule", "color": "#e2e2e2", "strokeWidth": 1.5}, "encoding": {"y": {"datum": "2026/08/14", "type": "nominal", "bandPosition": 0}}},
                {"data": {"values": [{}]}, "mark": {"type": "text", "color": "#777777", "fontSize": 13}, "encoding": {"y": {"datum": "hdr", "type": "nominal"}, "text": {"value": "董監持股"}}},
                {"mark": {"type": "text", "color": "#333333", "fontSize": 13, "align": "right", "dx": -6}, "encoding": {"x": {"value": "width"}, "text": {"field": "董監持股", "type": "nominal"}}}
              ]
            }
          ],
          "spacing": 0,
          "bounds": "flush"
        }
      ],
      "spacing": 34,
      "resolve": {"scale": {"color": "independent"}, "legend": {"color": "independent"}}
    },
    {
      "vconcat": [
        {
          "hconcat": [
            {"width": 1, "height": 216, "data": {"values": []}, "mark": "point"},
            {
              "width": 537, "height": 216,
              "data": {"name": "wh"},
              "title": {"text": "萬海(2615)大戶籌碼", "subtitle": "© WantGoo 玩股網"},
              "encoding": {"x": {"field": "d", "type": "temporal", "scale": {"domain": [{"year": 2025, "month": 7, "date": 21}, {"year": 2026, "month": 8, "date": 17}]}}},
              "layer": [
                {
                  "encoding": {"y": {"field": "周收盤價", "type": "quantitative", "scale": {"domain": [60, 100], "nice": false, "zero": false}, "axis": {"orient": "right", "values": [60, 70, 80, 90, 100], "grid": false, "labelPadding": -69, "title": ["股", "價", "︵", "元", "︶"], "titleX": 50}}},
                  "layer": [
                    {"mark": {"type": "area", "color": {"gradient": "linear", "x1": 0, "y1": 1, "x2": 0, "y2": 0, "stops": [{"offset": 0, "color": "#ffffff"}, {"offset": 1, "color": "#ededed"}]}, "opacity": 0.85}, "encoding": {"y2": {"datum": 60}}},
                    {"mark": {"type": "line", "strokeWidth": 1.2}, "encoding": {"color": {"datum": "周收盤價", "type": "nominal", "scale": {"domain": ["400張以上", "外資持股", "投信持股", "自營商持股", "董監持股", "周收盤價"], "range": ["#ff7433", "#5bc2b6", "#eb3b80", "#2d7cf2", "#ffc542", "#bbbbbb"]}}}}
                  ]
                },
                {
                  "transform": [{"fold": ["400張以上", "外資持股", "投信持股", "自營商持股", "董監持股"], "as": ["series", "value"]}],
                  "mark": {"type": "line", "strokeWidth": 2},
                  "encoding": {
                    "y": {"field": "value", "type": "quantitative", "scale": {"domain": [0, 100], "nice": false}, "axis": {"orient": "left", "values": [0, 25, 50, 75, 100], "grid": true, "labelPadding": -70, "title": ["比", "例", "︵", "%", "︶"], "titleX": -51}},
                    "color": {"field": "series", "type": "nominal", "scale": {"domain": ["400張以上", "外資持股", "投信持股", "自營商持股", "董監持股", "周收盤價"], "range": ["#ff7433", "#5bc2b6", "#eb3b80", "#2d7cf2", "#ffc542", "#bbbbbb"]}}
                  }
                }
              ],
              "resolve": {"scale": {"y": "independent"}}
            }
          ],
          "spacing": 0,
          "resolve": {"scale": {"color": "independent"}, "legend": {"color": "independent"}}
        },
        {
          "hconcat": [
            {
              "width": 132, "height": 249, "view": {"stroke": "#ebebeb"}, "data": {"name": "t_wh"},
              "title": {"text": "萬海(2615) 大戶籌碼 ⓘ", "anchor": "start", "fontSize": 18, "color": "#222222", "offset": 10},
              "encoding": {"y": {"field": "date", "type": "nominal", "scale": {"domain": ["hdr", "2026/08/14", "2026/08/07", "2026/07/31", "2026/07/24", "2026/07/17", "2026/07/09", "2026/07/03"], "paddingInner": 0, "paddingOuter": 0}, "axis": null}},
              "layer": [
                {"mark": "rect", "encoding": {"fill": {"field": "date", "type": "nominal", "legend": null}}},
                {"data": {"values": [{}]}, "mark": {"type": "rect", "fill": "#f4f5f7"}, "encoding": {"y": {"datum": "hdr", "type": "nominal"}}},
                {"data": {"values": [{}]}, "mark": {"type": "rule", "color": "#e2e2e2", "strokeWidth": 1.5}, "encoding": {"y": {"datum": "2026/08/14", "type": "nominal", "bandPosition": 0}}},
                {"data": {"values": [{}]}, "mark": {"type": "text", "color": "#777777", "fontSize": 13}, "encoding": {"y": {"datum": "hdr", "type": "nominal"}, "text": {"value": "年度/日期"}}},
                {"mark": {"type": "text", "color": "#333333", "fontSize": 13}, "encoding": {"text": {"field": "date", "type": "nominal"}}}
              ]
            },
            {
              "width": 125, "height": 249, "view": {"stroke": "#ebebeb"}, "data": {"name": "t_wh"},
              "encoding": {"y": {"field": "date", "type": "nominal", "scale": {"domain": ["hdr", "2026/08/14", "2026/08/07", "2026/07/31", "2026/07/24", "2026/07/17", "2026/07/09", "2026/07/03"], "paddingInner": 0, "paddingOuter": 0}, "axis": null}},
              "layer": [
                {"mark": "rect", "encoding": {"fill": {"field": "date", "type": "nominal", "legend": null}}},
                {"data": {"values": [{}]}, "mark": {"type": "rect", "fill": "#f4f5f7"}, "encoding": {"y": {"datum": "hdr", "type": "nominal"}}},
                {"data": {"values": [{}]}, "mark": {"type": "rule", "color": "#e2e2e2", "strokeWidth": 1.5}, "encoding": {"y": {"datum": "2026/08/14", "type": "nominal", "bandPosition": 0}}},
                {"data": {"values": [{}]}, "mark": {"type": "text", "color": "#777777", "fontSize": 13}, "encoding": {"y": {"datum": "hdr", "type": "nominal"}, "text": {"value": "400張以上"}}},
                {"mark": {"type": "text", "color": "#333333", "fontSize": 13, "align": "right", "dx": -6}, "encoding": {"x": {"value": "width"}, "text": {"field": "400張以上", "type": "nominal"}}}
              ]
            },
            {
              "width": 105, "height": 249, "view": {"stroke": "#ebebeb"}, "data": {"name": "t_wh"},
              "encoding": {"y": {"field": "date", "type": "nominal", "scale": {"domain": ["hdr", "2026/08/14", "2026/08/07", "2026/07/31", "2026/07/24", "2026/07/17", "2026/07/09", "2026/07/03"], "paddingInner": 0, "paddingOuter": 0}, "axis": null}},
              "layer": [
                {"mark": "rect", "encoding": {"fill": {"field": "date", "type": "nominal", "legend": null}}},
                {"data": {"values": [{}]}, "mark": {"type": "rect", "fill": "#f4f5f7"}, "encoding": {"y": {"datum": "hdr", "type": "nominal"}}},
                {"data": {"values": [{}]}, "mark": {"type": "rule", "color": "#e2e2e2", "strokeWidth": 1.5}, "encoding": {"y": {"datum": "2026/08/14", "type": "nominal", "bandPosition": 0}}},
                {"data": {"values": [{}]}, "mark": {"type": "text", "color": "#777777", "fontSize": 13}, "encoding": {"y": {"datum": "hdr", "type": "nominal"}, "text": {"value": "外資持股"}}},
                {"mark": {"type": "text", "color": "#333333", "fontSize": 13, "align": "right", "dx": -6}, "encoding": {"x": {"value": "width"}, "text": {"field": "外資持股", "type": "nominal"}}}
              ]
            },
            {
              "width": 105, "height": 249, "view": {"stroke": "#ebebeb"}, "data": {"name": "t_wh"},
              "encoding": {"y": {"field": "date", "type": "nominal", "scale": {"domain": ["hdr", "2026/08/14", "2026/08/07", "2026/07/31", "2026/07/24", "2026/07/17", "2026/07/09", "2026/07/03"], "paddingInner": 0, "paddingOuter": 0}, "axis": null}},
              "layer": [
                {"mark": "rect", "encoding": {"fill": {"field": "date", "type": "nominal", "legend": null}}},
                {"data": {"values": [{}]}, "mark": {"type": "rect", "fill": "#f4f5f7"}, "encoding": {"y": {"datum": "hdr", "type": "nominal"}}},
                {"data": {"values": [{}]}, "mark": {"type": "rule", "color": "#e2e2e2", "strokeWidth": 1.5}, "encoding": {"y": {"datum": "2026/08/14", "type": "nominal", "bandPosition": 0}}},
                {"data": {"values": [{}]}, "mark": {"type": "text", "color": "#777777", "fontSize": 13}, "encoding": {"y": {"datum": "hdr", "type": "nominal"}, "text": {"value": "投信持股"}}},
                {"mark": {"type": "text", "color": "#333333", "fontSize": 13, "align": "right", "dx": -6}, "encoding": {"x": {"value": "width"}, "text": {"field": "投信持股", "type": "nominal"}}}
              ]
            },
            {
              "width": 127, "height": 249, "view": {"stroke": "#ebebeb"}, "data": {"name": "t_wh"},
              "encoding": {"y": {"field": "date", "type": "nominal", "scale": {"domain": ["hdr", "2026/08/14", "2026/08/07", "2026/07/31", "2026/07/24", "2026/07/17", "2026/07/09", "2026/07/03"], "paddingInner": 0, "paddingOuter": 0}, "axis": null}},
              "layer": [
                {"mark": "rect", "encoding": {"fill": {"field": "date", "type": "nominal", "legend": null}}},
                {"data": {"values": [{}]}, "mark": {"type": "rect", "fill": "#f4f5f7"}, "encoding": {"y": {"datum": "hdr", "type": "nominal"}}},
                {"data": {"values": [{}]}, "mark": {"type": "rule", "color": "#e2e2e2", "strokeWidth": 1.5}, "encoding": {"y": {"datum": "2026/08/14", "type": "nominal", "bandPosition": 0}}},
                {"data": {"values": [{}]}, "mark": {"type": "text", "color": "#777777", "fontSize": 13}, "encoding": {"y": {"datum": "hdr", "type": "nominal"}, "text": {"value": "自營商持股"}}},
                {"mark": {"type": "text", "color": "#333333", "fontSize": 13, "align": "right", "dx": -6}, "encoding": {"x": {"value": "width"}, "text": {"field": "自營商持股", "type": "nominal"}}}
              ]
            },
            {
              "width": 99, "height": 249, "view": {"stroke": "#ebebeb"}, "data": {"name": "t_wh"},
              "title": {"text": "圖表截圖或轉載，請註明出處為玩股網", "subtitle": "單位：%", "anchor": "end", "fontSize": 12, "color": "#b5b5b5", "subtitleFontSize": 13, "subtitleColor": "#999999", "subtitlePadding": 22, "offset": 9},
              "encoding": {"y": {"field": "date", "type": "nominal", "scale": {"domain": ["hdr", "2026/08/14", "2026/08/07", "2026/07/31", "2026/07/24", "2026/07/17", "2026/07/09", "2026/07/03"], "paddingInner": 0, "paddingOuter": 0}, "axis": null}},
              "layer": [
                {"mark": "rect", "encoding": {"fill": {"field": "date", "type": "nominal", "legend": null}}},
                {"data": {"values": [{}]}, "mark": {"type": "rect", "fill": "#f4f5f7"}, "encoding": {"y": {"datum": "hdr", "type": "nominal"}}},
                {"data": {"values": [{}]}, "mark": {"type": "rule", "color": "#e2e2e2", "strokeWidth": 1.5}, "encoding": {"y": {"datum": "2026/08/14", "type": "nominal", "bandPosition": 0}}},
                {"data": {"values": [{}]}, "mark": {"type": "text", "color": "#777777", "fontSize": 13}, "encoding": {"y": {"datum": "hdr", "type": "nominal"}, "text": {"value": "董監持股"}}},
                {"mark": {"type": "text", "color": "#333333", "fontSize": 13, "align": "right", "dx": -6}, "encoding": {"x": {"value": "width"}, "text": {"field": "董監持股", "type": "nominal"}}}
              ]
            }
          ],
          "spacing": 0,
          "bounds": "flush"
        }
      ],
      "spacing": 34,
      "resolve": {"scale": {"color": "independent"}, "legend": {"color": "independent"}}
    }
  ],
  "spacing": 2,
  "resolve": {"scale": {"color": "independent"}, "legend": {"color": "independent"}}
}
